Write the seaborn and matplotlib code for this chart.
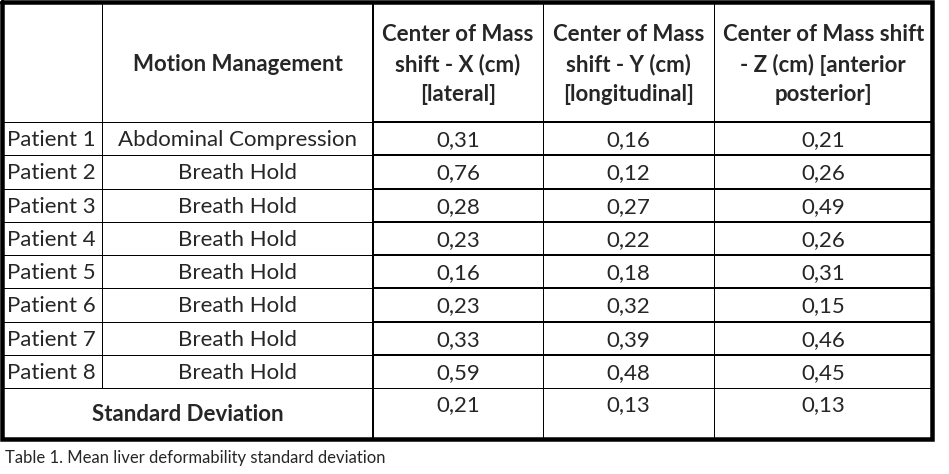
import matplotlib
matplotlib.use("Agg")
import matplotlib.pyplot as plt
import seaborn as sns

# table content
header_motion = "Motion Management"
header_cols = [
    ["Center of Mass", "shift - X (cm)", "[lateral]"],
    ["Center of Mass", "shift - Y (cm)", "[longitudinal]"],
    ["Center of Mass shift", "- Z (cm) [anterior", "posterior]"],
]
patients = ["Patient 1", "Patient 2", "Patient 3", "Patient 4",
            "Patient 5", "Patient 6", "Patient 7", "Patient 8"]
motion = ["Abdominal Compression", "Breath Hold", "Breath Hold", "Breath Hold",
          "Breath Hold", "Breath Hold", "Breath Hold", "Breath Hold"]
shift_x = [0.31, 0.76, 0.28, 0.23, 0.16, 0.23, 0.33, 0.59]
shift_y = [0.16, 0.12, 0.27, 0.22, 0.18, 0.32, 0.39, 0.48]
shift_z = [0.21, 0.26, 0.49, 0.26, 0.31, 0.15, 0.46, 0.45]
std_label = "Standard Deviation"
std_dev = [0.21, 0.13, 0.13]
caption = "Table 1. Mean liver deformability standard deviation"

sns.set_theme(style="white")
plt.rcParams["font.family"] = ["Lato", "DejaVu Sans"]

W, H = 949, 474
fig = plt.figure(figsize=(W / 100, H / 100), dpi=100)
ax = fig.add_axes([0, 0, 1, 1])
ax.set_xlim(0, W)
ax.set_ylim(H, 0)
ax.axis("off")

px = 0.72  # points per pixel
# layout (pixels)
col_edges = [2, 102, 373, 543, 714, 932.5]
head_top, head_bot = 2, 122
row_h = (388 - head_bot) / len(patients)
row_edges = [head_bot + i * row_h for i in range(len(patients) + 1)]
std_bot = 438.5
fs = 16
dy = 1.5  # small nudge so the text sits like the reference
black = "black"

def fmt(v):
    return f"{v:.2f}".replace(".", ",")

# outer border
ax.plot([col_edges[0], col_edges[-1], col_edges[-1], col_edges[0], col_edges[0]],
        [head_top, head_top, std_bot, std_bot, head_top],
        color=black, lw=4.5 * px, solid_joinstyle="miter")

# vertical lines
ax.vlines(col_edges[1], head_top, row_edges[-1], color=black, lw=1 * px)
ax.vlines(col_edges[2], head_top, std_bot, color=black, lw=2 * px)
ax.vlines(col_edges[3:5], head_top, std_bot, color=black, lw=1 * px)

# horizontal lines
for i, y in enumerate(row_edges[:-1]):
    ax.hlines(y, col_edges[0], col_edges[2], color=black, lw=1 * px)
    ax.hlines(y, col_edges[2], col_edges[-1], color=black, lw=2 * px)
ax.hlines(row_edges[-1], col_edges[0], col_edges[-1], color=black, lw=1 * px)

# header
ax.text((col_edges[1] + col_edges[2]) / 2, 63 + dy, header_motion, ha="center",
        va="center", fontsize=fs, fontweight="bold")
for j, lines in enumerate(header_cols):
    cx = (col_edges[j + 2] + col_edges[j + 3]) / 2
    for k, line in enumerate(lines):
        ax.text(cx, 33 + 30 * k + dy, line, ha="center", va="center",
                fontsize=fs, fontweight="bold")

# body rows
for i in range(len(patients)):
    cy = (row_edges[i] + row_edges[i + 1]) / 2 + dy
    ax.text(7, cy, patients[i], ha="left", va="center", fontsize=fs)
    ax.text((col_edges[1] + col_edges[2]) / 2, cy, motion[i], ha="center",
            va="center", fontsize=fs)
    for j, vals in enumerate([shift_x, shift_y, shift_z]):
        cx = (col_edges[j + 2] + col_edges[j + 3]) / 2
        ax.text(cx, cy, fmt(vals[i]), ha="center", va="center", fontsize=fs)

# standard deviation row
ax.text((col_edges[0] + col_edges[2]) / 2, 413 + dy, std_label, ha="center",
        va="center", fontsize=fs, fontweight="bold")
for j, v in enumerate(std_dev):
    cx = (col_edges[j + 2] + col_edges[j + 3]) / 2
    ax.text(cx, 404 + dy, fmt(v), ha="center", va="center", fontsize=fs)

ax.text(5, 457 + dy, caption, ha="left", va="center", fontsize=12)

fig.savefig("out.png", dpi=100, facecolor="white")
